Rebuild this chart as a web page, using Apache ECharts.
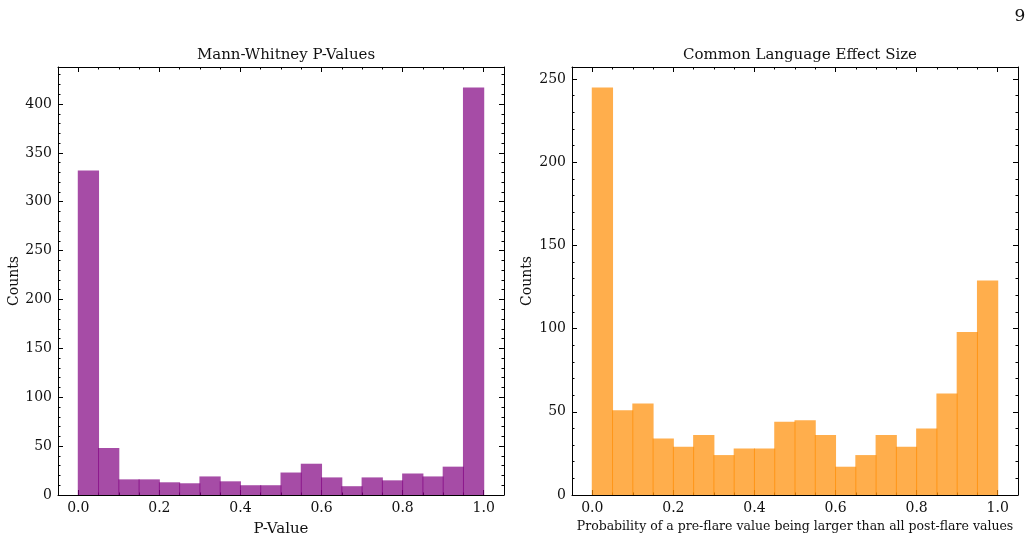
<!DOCTYPE html>
<html>
<head>
<meta charset="utf-8">
<title>Mann-Whitney / CLES histograms</title>
<script src="https://cdn.jsdelivr.net/npm/echarts@6/dist/echarts.min.js"></script>
<style>
  html, body { margin: 0; padding: 0; background: #fff; }
  #chart { width: 1029px; height: 540px; }
</style>
</head>
<body>
<div id="chart"></div>
<script>
// histogram bins: 20 bins of width 0.05 from 0 to 1
const binStart = 0
const binWidth = 0.05
const pvalCounts = [332, 48, 16, 16, 13, 12, 19, 14, 10, 10, 23, 32, 18, 9, 18, 15, 22, 19, 29, 417]
const clesCounts = [245, 51, 55, 34, 29, 36, 24, 28, 28, 44, 45, 36, 17, 24, 36, 29, 40, 61, 98, 129]

// tick labels
const xTicks = [0, 0.2, 0.4, 0.6, 0.8, 1.0]
const pvalYTicks = [0, 50, 100, 150, 200, 250, 300, 350, 400]
const clesYTicks = [0, 50, 100, 150, 200, 250]

const FONT = 'DejaVu Serif'
const xMin = -0.05
const xMax = 1.05

function minorList(lo, hi, step) {
  var out = []
  for (var v = lo; v <= hi + 1e-9; v += step) out.push(Math.round(v * 1000) / 1000)
  return out
}

function binData(counts) {
  return counts.map(function (c, i) {
    return [binStart + i * binWidth, binStart + (i + 1) * binWidth, c]
  })
}

function axisBase(gi, pos, min, max, showLine) {
  return {
    type: 'value',
    gridIndex: gi,
    position: pos,
    min: min,
    max: max,
    splitLine: { show: false },
    axisLine: { show: showLine, onZero: false, lineStyle: { color: '#000', width: 1 } }
  }
}

function majorAxis(gi, pos, min, max, ticks, labels, fmt) {
  const a = axisBase(gi, pos, min, max, true)
  a.axisTick = { show: true, inside: true, length: 5, customValues: ticks, lineStyle: { color: '#000', width: 1 } }
  a.axisLabel = {
    show: labels,
    customValues: ticks,
    color: '#111',
    fontFamily: FONT,
    fontSize: 14,
    margin: 6,
    formatter: fmt
  }
  return a
}

function minorAxis(gi, pos, min, max, ticks) {
  const a = axisBase(gi, pos, min, max, false)
  a.axisTick = { show: true, inside: true, length: 2.5, customValues: ticks, lineStyle: { color: '#000', width: 1 } }
  a.axisLabel = { show: false }
  return a
}

function xAxes(gi, name, nameSize, gap) {
  const fmt = function (v) { return Number(v).toFixed(1) }
  const minor = minorList(0, 1, binWidth)
  const bottom = majorAxis(gi, 'bottom', xMin, xMax, xTicks, true, fmt)
  bottom.name = name
  bottom.nameLocation = 'middle'
  bottom.nameGap = gap
  bottom.nameTextStyle = { color: '#111', fontFamily: FONT, fontSize: nameSize }
  return [
    bottom,
    minorAxis(gi, 'bottom', xMin, xMax, minor),
    majorAxis(gi, 'top', xMin, xMax, xTicks, false),
    minorAxis(gi, 'top', xMin, xMax, minor)
  ]
}

function yAxes(gi, yMax, ticks, gap) {
  const minor = minorList(0, Math.floor(yMax / 10) * 10, 10)
  const left = majorAxis(gi, 'left', 0, yMax, ticks, true)
  left.name = 'Counts'
  left.nameLocation = 'middle'
  left.nameGap = gap
  left.nameTextStyle = { color: '#111', fontFamily: FONT, fontSize: 14 }
  return [
    left,
    minorAxis(gi, 'left', 0, yMax, minor),
    majorAxis(gi, 'right', 0, yMax, ticks, false),
    minorAxis(gi, 'right', 0, yMax, minor)
  ]
}

function histSeries(idx, counts, color) {
  return {
    type: 'custom',
    xAxisIndex: idx,
    yAxisIndex: idx,
    data: binData(counts),
    renderItem: function (params, api) {
      const p0 = api.coord([api.value(0), api.value(2)])
      const p1 = api.coord([api.value(1), 0])
      return {
        type: 'rect',
        shape: { x: p0[0] - 0.5, y: p0[1], width: p1[0] - p0[0] + 1, height: p1[1] - p0[1] },
        style: { fill: color }
      }
    }
  }
}

// matplotlib-like 1.05 top margin
const pvalMax = Math.max.apply(null, pvalCounts) * 1.05
const clesMax = Math.max.apply(null, clesCounts) * 1.05

const chart = echarts.init(document.getElementById('chart'))
const option = {
  animation: false,
  backgroundColor: '#fff',
  title: [
    { text: 'Mann-Whitney P-Values', left: 281, top: 43, textAlign: 'center',
      textStyle: { fontFamily: FONT, fontSize: 15, fontWeight: 'normal', color: '#111' } },
    { text: 'Common Language Effect Size', left: 795, top: 43, textAlign: 'center',
      textStyle: { fontFamily: FONT, fontSize: 15, fontWeight: 'normal', color: '#111' } },
    { text: '9', left: 1015, top: 3, textAlign: 'center',
      textStyle: { fontFamily: FONT, fontSize: 17, fontWeight: 'normal', color: '#111' } }
  ],
  grid: [
    { left: 58, top: 67, width: 446, height: 428, containLabel: false, outerBoundsMode: 'none' },
    { left: 572, top: 67, width: 446, height: 428, containLabel: false, outerBoundsMode: 'none' }
  ],
  xAxis: xAxes(0, 'P-Value', 15, 27).concat(
    xAxes(1, 'Probability of a pre-flare value being larger than all post-flare values', 12.5, 25)),
  yAxis: yAxes(0, pvalMax, pvalYTicks, 37).concat(yAxes(1, clesMax, clesYTicks, 38)),
  series: [
    histSeries(0, pvalCounts, 'rgba(128,0,128,0.7)'),
    histSeries(4, clesCounts, 'rgba(255,140,0,0.7)')
  ]
}
chart.setOption(option)
</script>
</body>
</html>
